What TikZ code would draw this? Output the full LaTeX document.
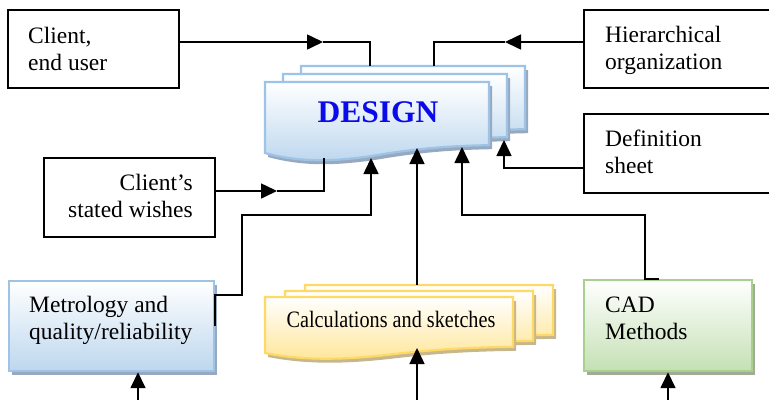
\documentclass[tikz,border=0pt]{standalone}
\usepackage{fontspec}
\setmainfont{Liberation Serif}
\usepackage{graphicx}
\usetikzlibrary{arrows.meta,shadows}

\definecolor{dblue}{HTML}{9DC3E6}
\definecolor{fblue}{HTML}{BDD7EE}
\definecolor{sblue}{HTML}{98A9BF}
\definecolor{dyel}{HTML}{FFD966}
\definecolor{fyel}{HTML}{FFE699}
\definecolor{syel}{HTML}{C6B88C}
\definecolor{dgrn}{HTML}{A9D18E}
\definecolor{fgrn}{HTML}{C5E0B4}
\definecolor{sgrn}{HTML}{A0AC98}
\definecolor{titleblue}{RGB}{10,10,235}

% rectangle (x, y, w, h) whose bottom edge is a wave
\newcommand\wavepath[4]{%
  (#1,#2) -- (#1+#3,#2) -- (#1+#3,#2+0.89*#4)
  .. controls (#1+0.8*#3,#2+0.9*#4) and (#1+0.65*#3,#2+0.95*#4) .. (#1+0.5*#3,#2+1.03*#4)
  .. controls (#1+0.3*#3,#2+1.13*#4) and (#1+0.15*#3,#2+1.13*#4) .. (#1,#2+#4) -- cycle}

% one sheet of a stacked document: shadow, border, fill, x, y, w, h
\newcommand\sheet[7]{%
  \fill[#1, shift={(3,4)}] \wavepath{#4}{#5}{#6}{#7};
  \draw[line width=2.2pt, draw=#2, top color=white, bottom color=#3] \wavepath{#4}{#5}{#6}{#7};}

% two lines of text, alignment l or r
\newcommand\stacktxt[3]{\begin{tabular}[t]{@{}#1@{}}#2\\#3\end{tabular}}

\tikzset{
  plainbox/.style={draw=black, line width=1.6pt, fill=white, inner sep=0pt, anchor=north west},
  colbox/.style n args={3}{draw=#1, line width=2.2pt, top color=white, bottom color=#2,
    inner sep=0pt, anchor=north west,
    general shadow={fill=#3, shadow xshift=3pt, shadow yshift=-4pt}},
  txt/.style={font=\fontsize{23.5}{27}\selectfont, inner sep=0pt},
  link/.style={line width=1.6pt, draw=black},
  arr/.style={link, -{Triangle[length=16pt,width=15pt]}},
}

\begin{document}
\begin{tikzpicture}[x=1pt,y=-1pt]
  \path[use as bounding box] (0,0) rectangle (769,400);
  \fill[white] (0,0) rectangle (769,400);
  \clip (0,0) rectangle (769,400);

  % stacked DESIGN sheets
  \sheet{sblue}{dblue}{fblue}{301}{66}{224}{71}
  \sheet{sblue}{dblue}{fblue}{283}{74}{224}{71}
  \sheet{sblue}{dblue}{fblue}{265}{82}{224}{71}
  \node[anchor=base, inner sep=0pt, text=titleblue,
        font=\fontsize{31.5}{36}\selectfont\bfseries] (design) at (378,122) {DESIGN};

  % stacked calculation sheets
  \sheet{syel}{dyel}{fyel}{305}{285}{248}{56}
  \sheet{syel}{dyel}{fyel}{285}{291}{248}{56}
  \sheet{syel}{dyel}{fyel}{265}{297}{248}{56}
  \node[txt, anchor=base] (calc) at (391,327)
       {\scalebox{0.86}[1]{Calculations and sketches}};

  % plain boxes
  \node[plainbox, minimum width=171pt, minimum height=78pt] (client) at (7,9) {};
  \node[txt, anchor=base west] (clientT) at (28,43) {\stacktxt{l}{Client,}{end user}};

  \node[plainbox, minimum width=190pt, minimum height=78pt] (hier) at (583,9) {};
  \node[txt, anchor=base west] (hierT) at (605,42) {\stacktxt{l}{Hierarchical}{organization}};

  \node[plainbox, minimum width=190pt, minimum height=79pt] (def) at (583,113) {};
  \node[txt, anchor=base west] (defT) at (605,146) {\stacktxt{l}{Definition}{sheet}};

  \node[plainbox, minimum width=171pt, minimum height=79pt] (wish) at (43,157) {};
  \node[txt, anchor=base east] (wishT) at (193,190) {\stacktxt{r}{Client’s}{stated wishes}};

  % coloured boxes
  \node[colbox={dblue}{fblue}{sblue}, minimum width=205pt, minimum height=90pt] (metro) at (8,280) {};
  \node[txt, anchor=base west] (metroT) at (29,312) {\stacktxt{l}{Metrology and}{quality/reliability}};

  \node[colbox={dgrn}{fgrn}{sgrn}, minimum width=168pt, minimum height=91pt] (cad) at (583,279) {};
  \node[txt, anchor=base west] (cadT) at (605,312) {\stacktxt{l}{CAD}{Methods}};

  % attachment points on the sheets
  \coordinate (dT1) at (370,66);
  \coordinate (dT2) at (434,66);
  \coordinate (dB1) at (324,158);
  \coordinate (dB2) at (371,158);
  \coordinate (dB3) at (417,148);
  \coordinate (dB4) at (462,147);
  \coordinate (dB5) at (504,140);
  \coordinate (calcTop) at (417,285);
  \coordinate (calcBot) at (417,348);

  % mid-line arrow tips and corners
  \coordinate (a1) at (323,42);
  \coordinate (a2) at (505,42);
  \coordinate (a3) at (583,168);
  \coordinate (a4) at (277,191);
  \coordinate (cadOut) at (659,279);

  % free ends at the bottom
  \coordinate (inM) at (138,400);
  \coordinate (inC) at (417,400);
  \coordinate (inD) at (668,400);

  % connectors
  \draw[arr] (client.east |- a1) -- (a1);
  \draw[link] (a1) -| (dT1);

  \draw[arr] (hier.west |- a2) -- (a2);
  \draw[link] (a2) -| (dT2);

  \draw[arr] (a3) -| (dB5);

  \draw[arr] (wish.east |- a4) -- (a4);
  \draw[link] (a4) -| (dB1);

  \draw[arr] (metro.east) |- (242,295) |- (371,215) -- (dB2);

  \draw[arr] (calcTop) -- (dB3);

  \draw[arr] (cadOut) -- (645,279) |- (462,215) -- (dB4);

  \draw[arr] (inM) -- (metro.south -| inM);
  \draw[arr] (inC) -- (calcBot);
  \draw[arr] (inD) -- (cad.south -| inD);
\end{tikzpicture}
\end{document}
